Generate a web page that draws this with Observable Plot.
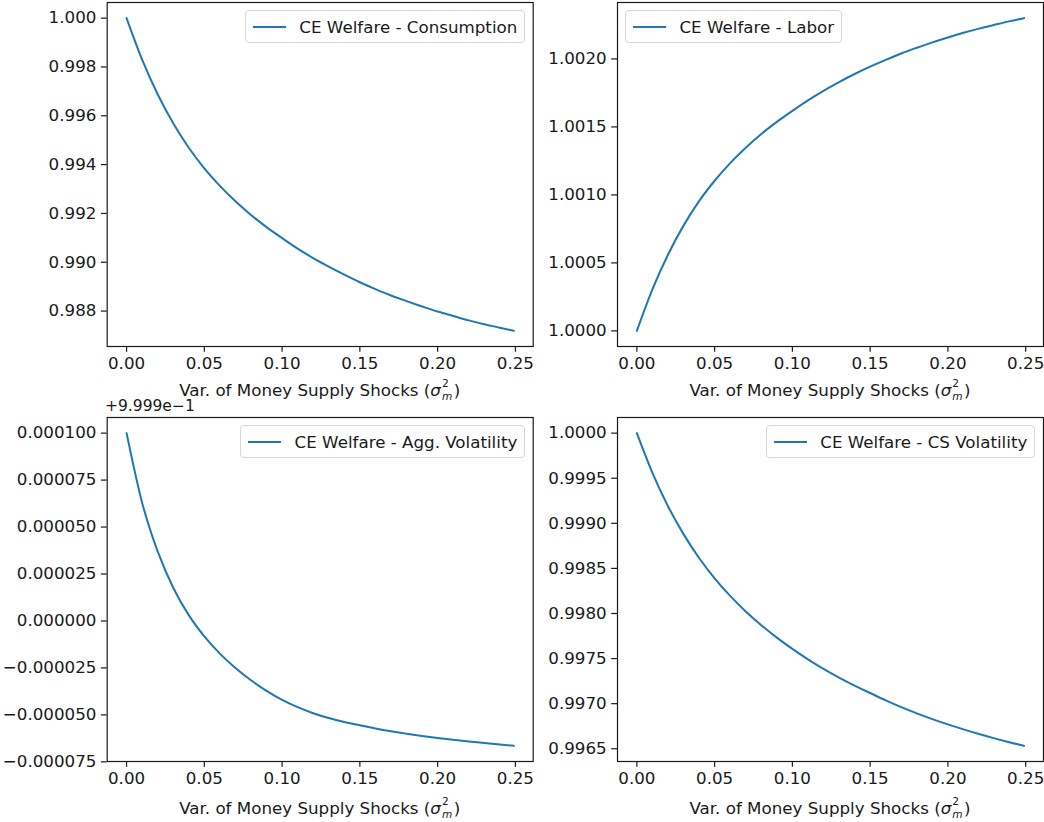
<!DOCTYPE html>
<html><head><meta charset="utf-8">
<script src="https://cdn.jsdelivr.net/npm/d3@7"></script>
<script src="https://cdn.jsdelivr.net/npm/@observablehq/plot@0.6"></script>
<style>
body{margin:0;background:#fff;font-family:"DejaVu Sans",sans-serif;color:#1a1a1a}
#fig{position:relative;width:1044px;height:822px;overflow:hidden;background:#fff}
.panel{position:absolute}
.legend{position:absolute;display:flex;align-items:center;box-sizing:border-box;height:33px;padding:0 6.7px;border:1px solid #d6d6d6;border-radius:4px;background:rgba(255,255,255,0.8);font-size:16.7px;white-space:nowrap;color:#1a1a1a}
.legend .h{display:inline-block;width:33.4px;height:2px;background:#1f77b4;margin-right:13.4px}
.xlabel{position:absolute;font-size:16.7px;line-height:20px;white-space:nowrap;transform:translateX(-50%);color:#1a1a1a}
.ss{display:inline-block;font-size:10.6px;line-height:12.6px;vertical-align:-4px;margin-left:1px;margin-right:1.5px;text-align:left}
.ss span{display:block}
.ss .sub{font-style:italic}
.offset{position:absolute;font-size:15.5px;line-height:20px;color:#1a1a1a}
</style></head><body><div id="fig"></div>
<script>
// ---- data ----
const varShock = [0,0.01,0.02,0.03,0.04,0.05,0.06,0.07,0.08,0.09,0.10,0.11,0.12,0.13,0.14,0.15,0.16,0.17,0.18,0.19,0.20,0.21,0.22,0.23,0.24,0.249];
const ceConsumption = [1.00000,0.99830,0.99688,0.99569,0.99469,0.99385,0.99313,0.99250,0.99194,0.99144,0.99099,0.99056,0.99017,0.98982,0.98949,0.98918,0.98890,0.98864,0.98841,0.98819,0.98798,0.98780,0.98762,0.98746,0.98732,0.98719];
const ceLabor = [1.000000,1.000305,1.000560,1.000774,1.000954,1.001104,1.001234,1.001347,1.001448,1.001537,1.001618,1.001695,1.001765,1.001829,1.001889,1.001943,1.001993,1.002040,1.002082,1.002122,1.002158,1.002192,1.002223,1.002251,1.002278,1.002300];
const aggVolOffset = "+9.999e\u22121";
const ceAggVolatility = [0.0001000,0.0000630,0.0000370,0.0000177,0.0000031,-0.0000082,-0.0000174,-0.0000251,-0.0000316,-0.0000372,-0.0000420,-0.0000459,-0.0000491,-0.0000517,-0.0000538,-0.0000555,-0.0000572,-0.0000587,-0.0000600,-0.0000612,-0.0000623,-0.0000633,-0.0000642,-0.0000650,-0.0000658,-0.0000665];
const ceCSVolatility = [1.000000,0.999560,0.999190,0.998880,0.998615,0.998390,0.998195,0.998023,0.997870,0.997732,0.997607,0.997492,0.997386,0.997289,0.997200,0.997118,0.997037,0.996962,0.996893,0.996829,0.996770,0.996715,0.996663,0.996615,0.996570,0.996532];

const xTicks = [0,0.05,0.10,0.15,0.20,0.25];
const consumptionTicks = [0.988,0.990,0.992,0.994,0.996,0.998,1.000];
const laborTicks = [1.0000,1.0005,1.0010,1.0015,1.0020];
const aggVolTicks = [-0.000075,-0.000050,-0.000025,0,0.000025,0.000050,0.000075,0.000100];
const csVolTicks = [0.9965,0.9970,0.9975,0.9980,0.9985,0.9990,0.9995,1.0000];
const legendLabels = ["CE Welfare - Consumption","CE Welfare - Labor","CE Welfare - Agg. Volatility","CE Welfare - CS Volatility"];
const xLabelText = "Var. of Money Supply Shocks (";

// ---- drawing ----
const fig = document.getElementById("fig");
function pad([a, b]) { const m = (b - a) * 0.05; return [a - m, b + m]; }

function panel({values, ticks, fmt, left, top, width, ml, mr}) {
  const data = varShock.map((x, i) => ({x, y: values[i]}));
  const chart = Plot.plot({
    width, height: 380,
    marginLeft: ml, marginRight: mr, marginTop: 2, marginBottom: 34,
    style: {background: "transparent", overflow: "visible", fontFamily: "DejaVu Sans", fontSize: "16.7px", color: "#1a1a1a"},
    x: {domain: pad(d3.extent(varShock))},
    y: {domain: pad(d3.extent(values))},
    marks: [
      Plot.axisX({ticks: xTicks, tickFormat: d3.format(".2f"), tickSize: 5.8, tickPadding: 5, fontSize: 16.7, strokeWidth: 1.2, label: null}),
      Plot.axisY({ticks, tickFormat: fmt, tickSize: 5.8, tickPadding: 5, fontSize: 16.7, strokeWidth: 1.2, label: null}),
      Plot.line(data, {x: "x", y: "y", stroke: "#1f77b4", strokeWidth: 2, curve: "monotone-x"}),
      Plot.frame({stroke: "#1a1a1a", strokeWidth: 1.2})
    ]
  });
  const div = document.createElement("div");
  div.className = "panel";
  div.style.left = left + "px";
  div.style.top = top + "px";
  div.appendChild(chart);
  fig.appendChild(div);
}

function legend(text, pos) {
  const d = document.createElement("div");
  d.className = "legend";
  Object.assign(d.style, pos);
  d.innerHTML = `<span class="h"></span><span>${text}</span>`;
  fig.appendChild(d);
}

function xlabel(cx, top) {
  const d = document.createElement("div");
  d.className = "xlabel";
  d.style.left = cx + "px";
  d.style.top = top + "px";
  d.innerHTML = `<span>${xLabelText}</span><i>\u03c3</i><span class="ss"><span class="sup">2</span><span class="sub">m</span></span><span>)</span>`;
  fig.appendChild(d);
}

panel({values: ceConsumption, ticks: consumptionTicks, fmt: d3.format(".3f"), left: 0, top: 0, width: 540, ml: 106.7, mr: 7.3});
panel({values: ceLabor, ticks: laborTicks, fmt: d3.format(".4f"), left: 510, top: 0, width: 534, ml: 107, mr: 1});
panel({values: ceAggVolatility, ticks: aggVolTicks, fmt: d3.format(".6f"), left: 0, top: 415, width: 540, ml: 106.7, mr: 7.3});
panel({values: ceCSVolatility, ticks: csVolTicks, fmt: d3.format(".4f"), left: 510, top: 415, width: 534, ml: 107, mr: 1});

legend(legendLabels[0], {right: "519px", top: "10px"});
legend(legendLabels[1], {left: "625px", top: "10px"});
legend(legendLabels[2], {right: "519px", top: "425px"});
legend(legendLabels[3], {right: "9px", top: "425px"});

xlabel(319.7, 377);
xlabel(830, 377);
xlabel(319.7, 795);
xlabel(830, 795);

const off = document.createElement("div");
off.className = "offset";
off.style.left = "105px";
off.style.top = "396px";
off.textContent = aggVolOffset;
fig.appendChild(off);
</script>
</body></html>
